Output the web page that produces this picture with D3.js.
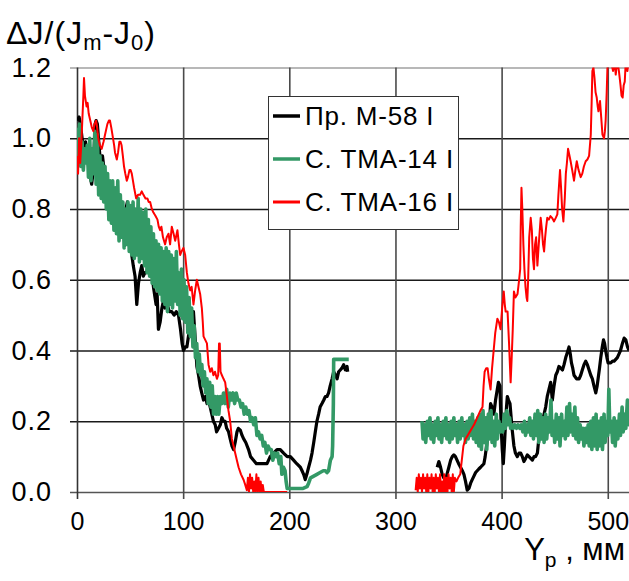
<!DOCTYPE html>
<html>
<head>
<meta charset="utf-8">
<script src="https://cdn.jsdelivr.net/npm/d3@7"></script>
<style>
  body { margin: 0; background: #fff; }
  svg text { font-family: "Liberation Sans", Arial, sans-serif; fill: #000; }
</style>
</head>
<body>
<div id="chart"></div>
<script>
// series names (legend order = draw order)
const seriesNames = ["Пр. М-58 I", "С. ТМА-14 I", "С. ТМА-16 I"];
const seriesColors = ["#000000", "#339966", "#ff0000"];

const xTicks = [0, 100, 200, 300, 400, 500];
const yTicks = [0, 0.2, 0.4, 0.6, 0.8, 1.0, 1.2];

// Пр. М-58 I, left part and right part
const blackPart1 = [[0,1.05],[2,1.06],[4,1.02],[6,0.97],[8,0.99],[10,0.94],[12,0.90],[13.8,0.87],[15.4,0.91],[17,1.04],[18,1.05],[19.2,1.04],[21,0.97],[22.5,0.92],[24,0.95],[26,0.90],[28,0.88],[30,0.85],[32,0.86],[34,0.83],[36,0.85],[38,0.82],[40,0.80],[42,0.81],[44,0.78],[46,0.80],[47.5,0.82],[49,0.78],[50.5,0.74],[51.6,0.67],[53,0.64],[54.7,0.61],[56.3,0.53],[57.9,0.59],[59.5,0.62],[61,0.64],[62.5,0.61],[64,0.62],[65.7,0.62],[67.3,0.65],[69,0.63],[70.4,0.63],[72,0.58],[73.5,0.55],[74.5,0.53],[75.5,0.56],[76.7,0.46],[78.3,0.48],[80,0.52],[81.4,0.54],[83,0.52],[85,0.53],[87,0.51],[89.3,0.51],[91.5,0.50],[93.5,0.51],[95.6,0.50],[97.5,0.46],[99,0.42],[100.3,0.40],[102,0.41],[103.5,0.41],[105,0.44],[106.6,0.47],[108,0.49],[109.7,0.51],[111,0.45],[112.9,0.355],[114.5,0.33],[116,0.30],[117.5,0.28],[119.2,0.26],[121,0.27],[122.5,0.25],[124,0.26],[125.5,0.24],[127,0.22],[128.5,0.20],[130.2,0.19],[131.5,0.17],[133.3,0.18],[135,0.19],[136.5,0.21],[138,0.20],[139.5,0.20],[141,0.18],[142.8,0.17],[144.3,0.15],[146,0.13],[147.5,0.12],[149,0.14],[150.7,0.17],[152,0.18],[153.8,0.175],[155.5,0.16],[157,0.15],[159,0.14],[161.6,0.12],[163.5,0.10],[166.3,0.09],[169,0.08],[172.6,0.08],[176,0.08],[179,0.08],[182,0.10],[185.2,0.11],[188.4,0.12],[191.5,0.12],[194.6,0.11],[198,0.10],[201,0.10],[204,0.09],[207,0.08],[210.4,0.07],[212,0.06],[213.5,0.05],[215,0.035],[216.5,0.05],[218.2,0.07],[220,0.09],[221.4,0.11],[223,0.14],[224.5,0.17],[226,0.20],[227.6,0.22],[229,0.24],[230.8,0.25],[232.5,0.26],[234,0.27],[235.5,0.27],[237,0.28],[238.5,0.30],[240.3,0.32],[241.8,0.34],[243.5,0.33],[245,0.32],[246.5,0.34],[248,0.345],[249.5,0.35],[251.2,0.36],[252.8,0.345],[254.4,0.355],[255,0.34]];
const blackPart2 = [[339.3,0.07],[340.9,0.086],[342.5,0.07],[344,0.05],[345.5,0.04],[347,0.034],[348.5,0.05],[350.3,0.07],[352,0.09],[353.5,0.10],[355,0.105],[356.5,0.10],[358,0.09],[359.5,0.08],[361.3,0.07],[363,0.06],[364.5,0.05],[366,0.03],[367.6,0.005],[369.2,0.01],[370.8,0.025],[372.3,0.035],[373.9,0.045],[375.5,0.055],[377,0.06],[378.5,0.065],[380.2,0.07],[381.8,0.075],[383.3,0.08],[384.5,0.10],[385.8,0.13],[387,0.16],[388,0.19],[389,0.22],[389.6,0.25],[391,0.24],[392.7,0.22],[394.3,0.26],[395.9,0.29],[397,0.31],[398.4,0.30],[399,0.24],[399.7,0.175],[400.6,0.12],[401.6,0.08],[402.6,0.13],[403.8,0.20],[404.6,0.24],[405.4,0.27],[406.5,0.26],[407.9,0.25],[409,0.21],[410,0.175],[411.6,0.13],[413,0.11],[414.8,0.10],[416.4,0.11],[418,0.11],[419.5,0.10],[421,0.086],[422.6,0.095],[424.2,0.105],[425.8,0.10],[427.4,0.095],[429,0.09],[430.5,0.10],[432,0.10],[433.7,0.11],[435.2,0.155],[436.8,0.18],[438.4,0.20],[440,0.22],[441.5,0.24],[443,0.27],[444.6,0.29],[446.2,0.31],[447.8,0.26],[449.4,0.30],[451,0.33],[452.5,0.34],[454,0.355],[455.7,0.35],[457.3,0.345],[458.8,0.36],[460.4,0.38],[462,0.395],[463.5,0.41],[464.7,0.39],[465.8,0.365],[467,0.35],[468.2,0.33],[470.6,0.32],[473,0.32],[474.5,0.33],[476,0.345],[477.6,0.36],[479.2,0.37],[480.8,0.36],[482.4,0.345],[484,0.33],[485.5,0.32],[487,0.30],[488.7,0.28],[490,0.30],[490.9,0.32],[492.2,0.35],[493.4,0.38],[494.8,0.41],[496,0.43],[497,0.42],[498,0.40],[499.2,0.38],[500.3,0.365],[502.8,0.365],[504.5,0.37],[506,0.37],[507.5,0.375],[509,0.38],[510.5,0.39],[512,0.40],[513.8,0.42],[515.4,0.435],[517,0.43],[518.6,0.41],[520,0.40]];

// С. ТМА-14 I
const greenPart1 = [[0,1.03],[1.2,0.94],[2.4,1.04],[3.6,0.92],[4.8,0.99],[6,0.91],[7.2,0.97],[8.4,0.93],[9.6,0.98],[10.8,0.89],[12,1.0],[13.2,0.88],[14.4,0.97],[15.6,0.90],[16.8,1.02],[18,0.87],[19.2,1.01],[20.4,0.84],[21.6,0.95],[22.8,0.83],[24,0.93],[25.2,0.82],[26.4,0.92],[27.6,0.80],[28.8,0.90],[30,0.77],[31.2,0.88],[32.4,0.76],[33.6,0.88],[34.8,0.74],[36,0.86],[37.2,0.73],[38.4,0.88],[39.6,0.71],[40.8,0.84],[42,0.72],[43.2,0.82],[44.4,0.69],[45.6,0.80],[46.8,0.70],[48,0.82],[49.2,0.68],[50.4,0.81],[51.6,0.67],[52.8,0.82],[54,0.66],[55.2,0.80],[56.4,0.67],[57.6,0.83],[58.8,0.65],[60,0.80],[61.2,0.66],[62.4,0.79],[63.6,0.64],[64.8,0.80],[66,0.62],[67.2,0.77],[68.4,0.61],[69.6,0.75],[70.8,0.59],[72,0.73],[73.2,0.58],[74.4,0.71],[75.6,0.57],[76.8,0.70],[78,0.56],[79.2,0.69],[80.4,0.54],[81.6,0.68],[82.8,0.53],[84,0.69],[85.2,0.51],[86.4,0.68],[87.6,0.53],[88.8,0.67],[90,0.52],[91.2,0.66],[92.4,0.54],[93.6,0.68],[94.8,0.53],[96,0.62],[97.2,0.50],[98.4,0.63],[99.6,0.49],[100.8,0.60],[102,0.48],[103.2,0.58],[104.4,0.45],[105.6,0.55],[106.8,0.44],[108,0.52],[109.2,0.41],[110.4,0.47],[111.6,0.38],[112.8,0.42],[114,0.34],[115.2,0.39],[116.4,0.33],[117.6,0.36],[118.8,0.30],[120,0.34],[121.2,0.28],[122.4,0.32],[123.6,0.25],[125,0.31],[126.2,0.24],[127.4,0.30],[128.6,0.22],[130,0.27],[131.2,0.22],[132.4,0.27],[133.6,0.22],[135,0.27],[136.5,0.25],[138,0.28],[139.5,0.25],[141,0.29],[142.5,0.24],[144,0.28],[145.5,0.26],[147,0.28],[148.5,0.25],[150,0.28],[151.5,0.26],[153,0.26],[154.5,0.24],[156,0.25],[157.5,0.22],[159,0.24],[160.5,0.22],[162,0.23],[163.5,0.20],[165,0.21],[166.5,0.19],[168,0.21],[169.5,0.16],[171,0.17],[172.5,0.15],[174,0.16],[175.5,0.13],[177,0.14],[178.5,0.11],[180,0.13],[181.5,0.12],[183,0.12],[184.5,0.09],[186,0.11],[187.5,0.10],[189,0.11],[190.5,0.08],[192,0.10],[193,0.05],[194.5,0.07],[196,0.06],[197,0.03],[198,0.01],[205,0.01],[213,0.01],[216.7,0.015],[218.2,0.025],[220,0.04],[223,0.045],[226,0.05],[229,0.055],[232,0.06],[234,0.06],[235.5,0.055],[237,0.06],[238.7,0.09],[240.3,0.10],[240.8,0.13],[241.5,0.25],[241.8,0.375],[256,0.375]];
const greenPart2 = [[325,0.20],[326,0.15],[327.5,0.19],[328.5,0.14],[330,0.20],[331,0.16],[332.5,0.21],[333.5,0.15],[335,0.19],[336,0.14],[337.5,0.20],[338.5,0.16],[340,0.21],[341,0.15],[342.5,0.19],[343.5,0.14],[345,0.20],[346,0.16],[347.5,0.21],[348.5,0.15],[350,0.19],[351,0.14],[352.5,0.20],[353.5,0.15],[355,0.21],[356,0.16],[357.5,0.19],[358.5,0.14],[360,0.20],[361,0.15],[362.5,0.21],[363.5,0.16],[365,0.19],[366,0.14],[367.5,0.20],[368.5,0.15],[370,0.21],[371,0.16],[372.5,0.22],[373.5,0.15],[375,0.20],[376,0.14],[377.5,0.21],[378.5,0.13],[380,0.22],[381,0.12],[382.5,0.23],[383.5,0.14],[385,0.21],[386,0.12],[387.5,0.22],[388.5,0.15],[390,0.23],[391,0.14],[392.5,0.20],[393.5,0.13],[395,0.22],[396,0.15],[397.5,0.20],[398.5,0.17],[400,0.19],[401,0.17],[402.5,0.22],[403.5,0.18],[405,0.23],[406,0.19],[407.5,0.21],[408.5,0.18],[410,0.19],[411,0.18],[412.5,0.19],[414,0.18],[415.5,0.19],[417,0.18],[418.5,0.19],[420,0.17],[421.5,0.20],[422.5,0.16],[424,0.19],[425,0.17],[426.5,0.21],[427.5,0.16],[429,0.20],[430,0.15],[431.5,0.22],[432.5,0.16],[434,0.23],[435,0.14],[436.5,0.22],[437.5,0.15],[439,0.21],[440,0.14],[441.5,0.22],[442.5,0.15],[444,0.21],[445,0.17],[446.5,0.26],[447.5,0.16],[449,0.20],[450,0.14],[451.5,0.22],[452.5,0.15],[454,0.21],[455,0.13],[456.5,0.22],[457.5,0.16],[459,0.20],[460,0.15],[461.5,0.24],[462.5,0.16],[464,0.25],[465,0.17],[466.5,0.22],[467.5,0.16],[469,0.24],[470,0.15],[471.5,0.21],[472.5,0.14],[474,0.19],[475,0.15],[476.5,0.18],[477.5,0.13],[479,0.18],[480,0.14],[481.5,0.19],[482.5,0.13],[484,0.20],[485,0.12],[486.5,0.21],[487.5,0.13],[489,0.22],[490,0.12],[491.5,0.20],[492.5,0.13],[494,0.21],[495,0.12],[496.5,0.22],[497.5,0.14],[499,0.20],[500,0.16],[501,0.29],[502,0.17],[503.5,0.20],[504.5,0.14],[506,0.21],[507,0.13],[508.5,0.20],[509.5,0.15],[511,0.22],[512,0.16],[513.5,0.24],[514.5,0.17],[516,0.22],[517,0.18],[518.5,0.26],[519.5,0.19],[520,0.22]];

// С. ТМА-16 I
const redPart1 = [[0,0.95],[1,0.90],[2,1.0],[3,0.93],[4,0.98],[5,1.05],[6,1.12],[6.6,1.17],[7.5,1.12],[9,1.09],[10,1.10],[11,1.07],[12.5,1.05],[14,1.03],[15.4,1.02],[16.5,1.04],[18,1.05],[19,1.03],[20,1.0],[21.5,0.98],[23.3,0.97],[25,0.99],[26.4,1.01],[28.6,1.04],[30,1.05],[31,1.05],[32.3,1.03],[33.6,1.006],[35,0.98],[35.8,0.96],[37.5,0.94],[38.7,0.96],[39.9,0.99],[41,0.99],[42,0.98],[43.2,0.95],[44.3,0.92],[45.5,0.90],[46.9,0.88],[48,0.89],[49.4,0.91],[50.5,0.91],[51.6,0.90],[52.7,0.88],[53.8,0.86],[55.7,0.83],[57.5,0.84],[59.4,0.84],[61,0.85],[62.6,0.84],[64.5,0.83],[66.3,0.83],[67.5,0.82],[68.9,0.82],[70.5,0.80],[72,0.79],[74,0.78],[75.8,0.77],[77,0.75],[78.3,0.74],[79.5,0.75],[81,0.72],[83,0.70],[84.5,0.72],[86.2,0.73],[87.7,0.70],[89.3,0.75],[91,0.73],[92.5,0.71],[94.6,0.74],[96,0.70],[97.2,0.67],[98.5,0.68],[100.3,0.69],[101.9,0.67],[103.5,0.62],[105,0.59],[106.6,0.57],[108,0.58],[109.7,0.53],[111.3,0.57],[112.9,0.60],[114.4,0.58],[116,0.56],[117.6,0.52],[118.5,0.48],[119.2,0.44],[120.8,0.43],[122.4,0.42],[123.9,0.36],[125.5,0.34],[127,0.35],[128.5,0.33],[130,0.34],[131.8,0.32],[133,0.33],[133.8,0.42],[134.5,0.42],[135.2,0.34],[136.5,0.33],[138,0.32],[139.6,0.31],[141.2,0.27],[142.7,0.23],[144.3,0.20],[145.9,0.15],[147.5,0.13],[149,0.11],[150.6,0.09],[152.2,0.07],[154.5,0.05],[157,0.034],[158.5,0.02],[160,0.005],[161,0.04],[162,0.0],[163,0.05],[164,0.01],[165,0.04],[166,0.0],[167,0.03],[168,0.0],[169,0.05],[170,0.0],[171,0.04],[172,0.0],[173,0.03],[174,0.0],[175,0.02],[176,0.0],[186,0.0],[198,0.0]];
const redPart2 = [[319,0.005],[320,0.04],[321,0.0],[322,0.05],[323,0.01],[324,0.04],[325,0.0],[326,0.05],[327,0.01],[328,0.04],[329,0.0],[330,0.05],[331,0.0],[332,0.04],[333,0.01],[334,0.05],[335,0.0],[336,0.04],[337,0.0],[338,0.05],[339,0.01],[340,0.04],[341,0.0],[342,0.05],[343,0.0],[344,0.03],[345,0.0],[346,0.05],[347,0.0],[348,0.04],[349,0.0],[350,0.05],[351,0.01],[352,0.04],[353,0.0],[354,0.05],[355,0.0],[356,0.04],[357.5,0.03],[359,0.04],[361,0.05],[362.5,0.09],[364,0.13],[366,0.15],[368,0.16],[370,0.17],[372,0.18],[374,0.19],[375.5,0.20],[377,0.21],[378.5,0.22],[380,0.23],[382,0.24],[383,0.30],[384,0.34],[385.5,0.35],[386.8,0.35],[388,0.32],[389.6,0.29],[391,0.35],[392.5,0.40],[394,0.45],[396,0.49],[397.5,0.48],[399,0.46],[400.5,0.52],[402,0.567],[403,0.53],[403.8,0.51],[405.6,0.51],[407,0.42],[408.5,0.31],[409.5,0.38],[410.5,0.46],[411.6,0.567],[413,0.55],[415,0.56],[416.5,0.60],[417.5,0.63],[418,0.75],[418.7,0.86],[419.5,0.80],[420.5,0.70],[421.5,0.63],[422.5,0.58],[423.5,0.55],[424.2,0.54],[425,0.60],[426,0.72],[427.4,0.775],[428.5,0.74],[429.5,0.66],[430.5,0.63],[431.5,0.70],[432.5,0.72],[433.7,0.64],[435,0.70],[436.8,0.775],[438,0.74],[439,0.70],[440,0.68],[441,0.72],[442,0.75],[443,0.775],[444.5,0.77],[446,0.78],[447.5,0.775],[449.4,0.765],[451,0.775],[452.5,0.785],[453.5,0.84],[455,0.91],[456,0.86],[457,0.80],[458.2,0.765],[459.5,0.83],[460.5,0.90],[461.5,0.93],[462.6,0.97],[464,0.95],[465,0.935],[466.5,0.91],[468.2,0.88],[469.5,0.91],[470.8,0.935],[472.5,0.91],[474.5,0.89],[476,0.90],[477.5,0.92],[479.2,0.935],[480.8,0.94],[482.4,0.95],[484,1.01],[484.8,1.10],[485.5,1.19],[486.5,1.20],[487.5,1.17],[488.5,1.13],[489.6,1.115],[490.5,1.09],[491.2,1.076],[492,1.09],[492.7,1.105],[493.8,1.06],[495,1.01],[496.5,1.0],[497.3,1.02],[498,1.05],[499,1.13],[499.7,1.20],[500.5,1.25],[502,1.24],[503.5,1.21],[505,1.19],[506,1.23],[507.5,1.18],[509,1.22],[510.5,1.19],[512,1.15],[513,1.12],[514,1.115],[515,1.15],[516,1.16],[517,1.22],[518.5,1.19],[520,1.23]];

const seriesParts = [
  [blackPart1, blackPart2],
  [greenPart1, greenPart2],
  [redPart1, redPart2]
];
const seriesWidths = [3.2, 3.6, 2];

// layout
const outerWidth = 629;
const outerHeight = 581;
const plot = {left: 77, top: 67.5, right: 629, bottom: 492};

const svg = d3.select("#chart")
    .append("svg")
    .attr("width", outerWidth)
    .attr("height", outerHeight);

const xScale = d3.scaleLinear().domain([0, 520]).range([plot.left, plot.right]);
const yScale = d3.scaleLinear().domain([0, 1.2]).range([plot.bottom, plot.top]);

svg.append("clipPath")
    .attr("id", "clip")
    .append("rect")
    .attr("x", plot.left)
    .attr("y", plot.top)
    .attr("width", plot.right - plot.left)
    .attr("height", plot.bottom - plot.top);

// horizontal grid lines + y ticks
const yAxis = d3.axisLeft(yScale)
    .tickValues(yTicks)
    .tickSize(-(plot.right - plot.left))
    .tickFormat(d3.format(".1f"));

const gy = svg.append("g")
    .attr("class", "axis-y-axis")
    .attr("transform", `translate(${plot.left},0)`)
    .call(yAxis);
gy.select(".domain").remove();
gy.selectAll(".tick line")
    .attr("x2", plot.right - plot.left)
    .attr("x1", -7)
    .attr("stroke", d => d === 1.2 ? "#a0a0a0" : (d === 0 ? "#555" : "#1a1a1a"))
    .attr("stroke-width", 1.6);
gy.selectAll(".tick text")
    .attr("x", -25)
    .attr("font-size", 27)
    .attr("letter-spacing", 1)
    .style("font-family", "Liberation Sans, Arial, sans-serif");

// vertical grid lines + x ticks
const xAxis = d3.axisBottom(xScale)
    .tickValues(xTicks)
    .tickFormat(d3.format("d"));

const gx = svg.append("g")
    .attr("class", "axis-x-axis")
    .attr("transform", `translate(0,${plot.bottom})`)
    .call(xAxis);
gx.select(".domain").remove();
gx.selectAll(".tick line")
    .attr("y1", plot.top - plot.bottom)
    .attr("y2", 7)
    .attr("stroke", d => d === 0 ? "#333" : "#4a4a4a")
    .attr("stroke-width", 1.6);
gx.selectAll(".tick text")
    .attr("y", 20)
    .attr("dy", "0.71em")
    .attr("font-size", 25)
    .style("font-family", "Liberation Sans, Arial, sans-serif");

// lines
const line = d3.line()
    .x(d => xScale(d[0]))
    .y(d => yScale(d[1]));

seriesParts.forEach((parts, i) => {
    svg.append("g")
        .attr("clip-path", "url(#clip)")
        .selectAll("path")
        .data(parts)
        .join("path")
        .attr("d", line)
        .attr("fill", "none")
        .attr("stroke", seriesColors[i])
        .attr("stroke-width", seriesWidths[i])
        .attr("stroke-linejoin", "round");
});

// y axis title
const yTitle = svg.append("text")
    .attr("x", 7)
    .attr("y", 44)
    .attr("font-size", 32)
    .attr("letter-spacing", 1);
yTitle.append("tspan").text("\u2206J/(J");
yTitle.append("tspan").attr("font-size", 22).attr("dy", 6).text("m");
yTitle.append("tspan").attr("dy", -6).text("-J");
yTitle.append("tspan").attr("font-size", 22).attr("dy", 6).text("0");
yTitle.append("tspan").attr("dy", -6).text(")");

// x axis title
const xTitle = svg.append("text")
    .attr("x", 625)
    .attr("y", 560)
    .attr("text-anchor", "end")
    .attr("font-size", 31);
xTitle.append("tspan").text("Y");
xTitle.append("tspan").attr("font-size", 21).attr("dy", 7).text("p");
xTitle.append("tspan").attr("dy", -7).text(" , мм");

// legend
const legend = svg.append("g").attr("class", "legend");
legend.append("rect")
    .attr("x", 268.5)
    .attr("y", 96.5)
    .attr("width", 190)
    .attr("height", 133)
    .attr("fill", "#fff")
    .attr("stroke", "#333")
    .attr("stroke-width", 1);

const legendY = [116, 159, 202];
const items = legend.selectAll("g.item")
    .data(seriesNames)
    .join("g")
    .attr("class", "item")
    .attr("transform", (d, i) => `translate(0,${legendY[i]})`);
items.append("line")
    .attr("x1", 273)
    .attr("x2", 300)
    .attr("stroke", (d, i) => seriesColors[i])
    .attr("stroke-width", (d, i) => i === 2 ? 3 : 3.5);
items.append("text")
    .attr("x", 305)
    .attr("y", 9)
    .attr("font-size", 26)
    .attr("letter-spacing", 0.8)
    .text(d => d);
</script>
</body>
</html>
